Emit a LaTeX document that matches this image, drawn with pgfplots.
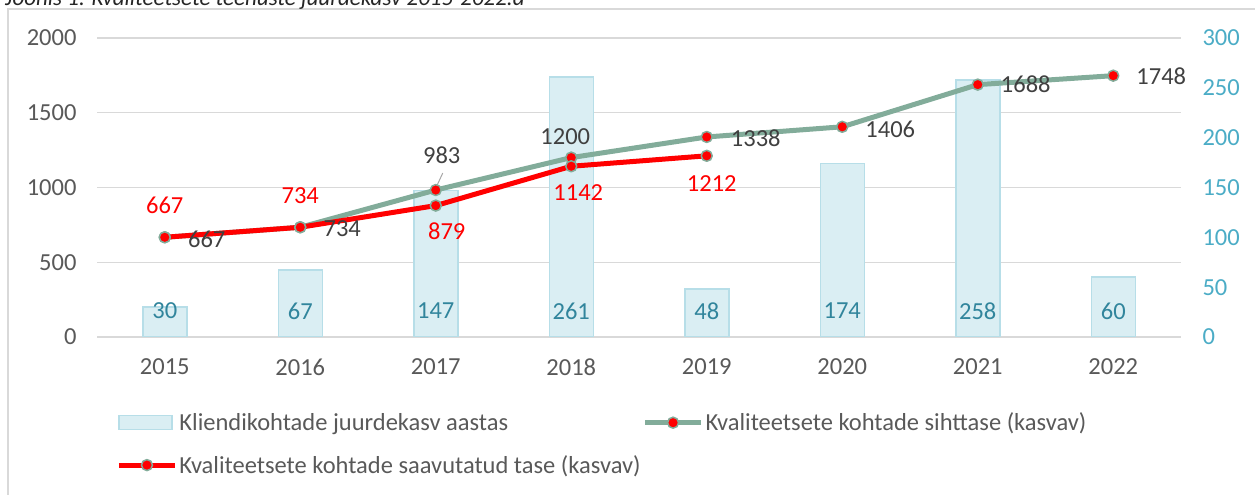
\documentclass[border=0pt]{standalone}
\usepackage{fontspec}
\setmainfont{Carlito}
\usepackage{pgfplots}
\usepackage{pgfplotstable}
\pgfplotsset{compat=1.18}

\definecolor{sage}{HTML}{82AC9A}
\definecolor{barfill}{HTML}{DAEEF3}
\definecolor{baredge}{HTML}{B7DEE8}
\definecolor{gridc}{HTML}{D9D9D9}
\definecolor{tickc}{HTML}{595959}
\definecolor{rtick}{HTML}{4BACC6}
\definecolor{barlab}{HTML}{31859C}
\definecolor{labgray}{HTML}{404040}
\definecolor{titlec}{HTML}{262626}

\newcommand{\fs}{\fontsize{24.5}{29.4}\selectfont}
\newcommand{\ft}{\fontsize{23}{27.6}\selectfont}

\pgfplotstableread{
x y lab dx dy
0 667 667 42 -2
1 734 734 42 -1
2 983 983 6 35
3 1200 1200 -6 21
4 1338 1338 49 -1
5 1406 1406 48 -3
6 1688 1688 48 0
7 1748 1748 48 -1
}\siht

\pgfplotstableread{
x y lab dx dy
0 667 667 0 32
1 734 734 0 32
2 879 879 11 -26
3 1142 1142 7 -26
4 1212 1212 5 -28
}\saav

\pgfplotsset{base/.style={at={(97pt,158pt)}, anchor=south west, scale only axis,
  width=1084pt, height=299pt, xmin=-0.5, xmax=7.5,
  /pgf/number format/assume math mode=true, /pgf/number format/1000 sep={},
  tick style={draw=none}, axis line style={draw=none}}}

\begin{document}
\begin{tikzpicture}[font=\fs]
\useasboundingbox (0,0) rectangle (1255pt,495pt);
\clip (0,0) rectangle (1255pt,495pt);
\draw[gridc, line width=1.5pt] (8pt,486pt) rectangle (1270pt,-10pt);
\node[anchor=base west, inner sep=0pt, font=\ft\itshape, text=titlec] at (5pt,489.5pt) {Joonis 1. Kvaliteetsete teenuste juurdekasv 2015-2022.a};

% grid + left/x ticks
\begin{axis}[base, ymin=0, ymax=2000, ytick={0,500,1000,1500,2000},
  ymajorgrids, grid style={gridc, line width=1.3pt},
  xtick={0,1,2,3,4,5,6,7},
  xticklabels={2015,2016,2017,2018,2019,2020,2021,2022},
  ticklabel style={text=tickc},
  x tick label style={yshift=-18pt},
  y tick label style={xshift=-17pt}]
\end{axis}

% bars, right axis
\begin{axis}[base, ymin=0, ymax=300, axis y line*=right, axis x line=none,
  ytick={0,50,100,150,200,250,300}, xtick=\empty,
  y tick label style={text=rtick, xshift=18pt}]
\addplot[ybar, bar width=44pt, fill=barfill, draw=baredge, line width=1.5pt]
  coordinates {(0,30) (1,67) (2,147) (3,261) (4,48) (5,174) (6,258) (7,60)};
\addplot[only marks, mark=*, mark options={opacity=0},
  nodes near coords, point meta=explicit symbolic,
  every node near coord/.style={anchor=center, text=barlab, opacity=1, text opacity=1}]
  coordinates {(0,26)[30] (1,26)[67] (2,26)[147] (3,26)[261] (4,26)[48] (5,26)[174] (6,26)[258] (7,26)[60]};
\end{axis}

% lines, left scale
\begin{axis}[base, ymin=0, ymax=2000, axis lines=none, clip=false,
  legend columns=2, legend cell align=left,
  legend style={at={(axis description cs:0.015,-0.24)}, anchor=north west,
    draw=none, fill=none, text=tickc, font=\fs, row sep=19pt},
  legend image code/.code={\draw[mark repeat=2,mark phase=2,#1] plot coordinates {(0pt,0pt) (28pt,0pt) (56pt,0pt)};}]
\addlegendimage{legend image code/.code={\draw[fill=barfill, draw=baredge, line width=1.5pt] (0pt,-7pt) rectangle (53pt,7pt);}}
\addlegendentry{Kliendikohtade juurdekasv aastas}
\addplot[sage, line width=5pt, line join=round, mark=*, mark size=5.5pt,
  mark options={fill=red, draw=sage, line width=1.5pt},
  nodes near coords, point meta=explicit symbolic,
  visualization depends on={\thisrow{dx}\as\labdx},
  visualization depends on={\thisrow{dy}\as\labdy},
  every node near coord/.style={anchor=center, text=labgray, xshift=\labdx pt, yshift=\labdy pt}]
  table[x=x, y=y, meta=lab] {\siht};
\addlegendentry{Kvaliteetsete kohtade sihttase (kasvav)}
\addplot[red, line width=5pt, line join=round, mark=*, mark size=5.5pt,
  mark options={fill=red, draw=sage, line width=1.5pt},
  nodes near coords, point meta=explicit symbolic,
  visualization depends on={\thisrow{dx}\as\labdx},
  visualization depends on={\thisrow{dy}\as\labdy},
  every node near coord/.style={anchor=center, text=red, xshift=\labdx pt, yshift=\labdy pt}]
  table[x=x, y=y, meta=lab] {\saav};
\addlegendentry{Kvaliteetsete kohtade saavutatud tase (kasvav)}
\draw[gray!70, line width=1pt] (axis cs:2,983) ++(1pt,4pt) -- ++(6pt,13pt);
\end{axis}
\end{tikzpicture}
\end{document}
